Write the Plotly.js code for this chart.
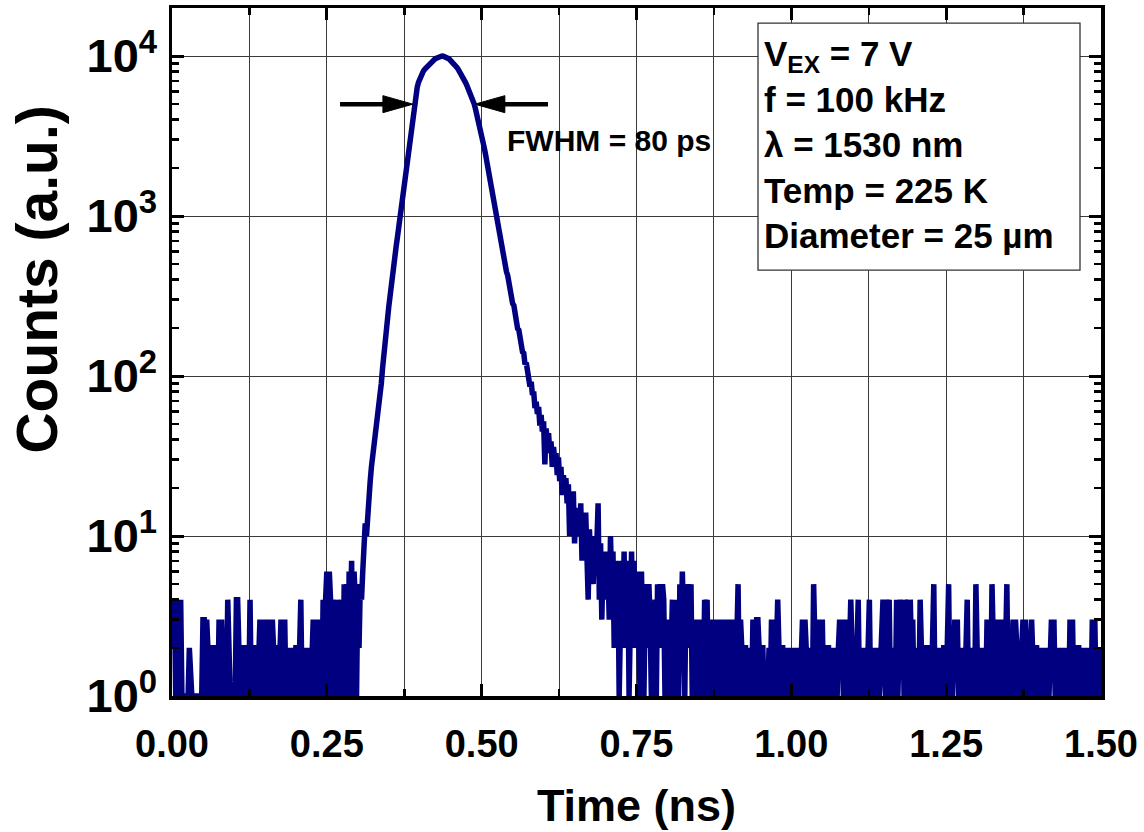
<!DOCTYPE html>
<html><head><meta charset="utf-8">
<script src="https://cdn.plot.ly/plotly-3.0.1.min.js"></script>
<style>html,body{margin:0;padding:0;background:#fff;}#chart{width:1144px;height:832px;}</style>
</head><body><div id="chart"></div>
<script>
// Time bins (ns): first bin and bin width
const timeStart = 0;
const timeStep = 0.002;

// Counts, noise floor before the pulse (t = 0 ... 0.304 ns)
const countsBefore = [
 2,4,4,1,4,4,1,4,1,1,
 1,1,1,1,2,1,1,1,1,1,
 1,1,1,1,1,3,3,1,3,2,
 1,2,1,2,2,1,1,1,3,1,
 3,1,1,1,1,4,1,1,1,1,
 1,1,4,4,2,1,2,1,2,2,
 1,1,1,4,1,2,1,2,2,1,
 2,3,1,3,3,1,3,2,3,1,
 3,3,2,1,2,2,1,2,3,1,
 3,3,1,2,1,2,1,1,2,1,
 2,2,1,2,4,1,2,1,2,2,
 1,2,1,2,3,1,3,3,1,3,
 2,1,4,1,4,6,1,6,4,1,
 4,2,4,1,4,3,1,4,1,5,
 2,5,1,6,3,7,1,6,4,1,
 5,2,5
];

// Counts, pulse (t = 0.306 ... 0.720 ns)
const countsPeak = [
 4,6,8,12,10,15,19,22,27,31,
 34,42,46,55,63,69,90,112,140,163,
 196,226,271,313,375,434,503,560,648,738,
 853,975,1125,1285,1482,1695,1908,2185,2515,2948,
 3500,4100,4800,5380,5920,6400,6850,7250,7590,7850,
 8060,8250,8430,8600,8760,8913,9078,9247,9397,9528,
 9661,9772,9863,9931,9977,10000,9977,9931,9863,9772,
 9661,9528,9376,9226,9057,8872,8670,8472,8260,8035,
 7816,7586,7345,7079,6823,6561,6310,6053,5781,5521,
 5248,5012,4677,4365,4074,3784,3467,3199,2917,2692,
 2455,2213,2018,1820,1622,1462,1303,1148,1035,930,
 860,770,715,640,610,545,505,450,425,372,
 352,318,284,276,240,230,198,194,168,164,
 141,139,118,121,102,104,86,92,76,80,
 63,69,58,64,49,57,45,52,28,47,
 39,44,33,39,27,36,30,33,24,31,
 22,27,18,24,19,23,16,21,10,18,
 13,19,9,14,11,15,10,16,7,13,
 8,14,6,4,11,7,10,5,8,6,
 9,16,4,9,3,7,5,8,4,6,
 3,10,5,8,2,6,3,7
];

// Counts, noise floor after the pulse (t = 0.722 ... 1.500 ns)
const countsAfter = [
 1,5,7,3,8,2,6,7,1,5,
 8,3,7,2,4,6,2,1,6,3,
 1,4,5,2,5,3,1,3,2,4,
 1,5,3,5,2,5,4,1,3,2,
 3,1,2,4,1,4,2,3,1,5,
 2,6,3,1,5,2,5,3,5,1,
 3,2,1,3,2,1,2,3,1,4,
 2,4,1,2,3,1,2,3,1,3,
 2,1,2,3,1,2,1,3,2,1,
 2,3,1,2,1,2,5,1,3,2,
 1,2,2,1,2,1,2,1,3,2,
 1,3,3,2,1,2,2,1,1,1,
 1,2,1,3,2,3,1,2,4,2,
 1,2,2,1,2,1,2,2,1,2,
 2,1,2,2,1,2,1,2,3,1,
 3,2,1,2,1,2,1,5,2,1,
 2,1,3,2,3,1,2,1,2,2,
 1,2,2,1,1,2,1,2,3,2,
 3,1,3,2,3,1,2,4,2,1,
 2,1,2,4,1,2,1,2,1,2,
 1,2,4,1,2,1,2,2,1,2,
 1,2,3,4,2,1,4,2,4,1,
 2,1,2,1,4,1,2,4,2,4,
 1,4,3,4,1,4,2,3,1,2,
 1,2,1,4,2,1,2,1,2,2,
 1,2,1,2,5,1,2,1,1,1,
 2,1,2,2,1,2,5,1,2,1,
 2,3,2,3,1,2,1,2,2,1,
 2,4,1,2,2,1,2,1,5,2,
 1,2,1,2,1,2,1,3,2,3,
 1,5,2,1,2,1,3,2,3,1,
 2,1,2,5,1,2,1,2,3,1,
 3,2,1,2,1,2,3,1,3,2,
 1,2,1,3,2,1,2,2,1,2,
 1,2,2,1,2,1,2,1,2,3,
 2,3,1,2,1,2,1,1,2,1,
 2,1,2,1,3,2,3,1,2,1,
 2,2,1,2,1,2,2,1,2,1,
 2,1,3,2,3,1,2,2,1,2
];

// Axis ticks
const xTickVals = [0, 0.25, 0.5, 0.75, 1.0, 1.25, 1.5];
const xTickText = ["0.00", "0.25", "0.50", "0.75", "1.00", "1.25", "1.50"];
const yTickVals = [1, 10, 100, 1000, 10000];
const yTickText = ["10<sup>0</sup>", "10<sup>1</sup>", "10<sup>2</sup>", "10<sup>3</sup>", "10<sup>4</sup>"];
const yMinorVals = [2,3,4,5,6,7,8,9,20,30,40,50,60,70,80,90,200,300,400,500,600,700,800,900,2000,3000,4000,5000,6000,7000,8000,9000];

// Annotation texts and FWHM marker positions
const infoLines = ["V<sub>EX</sub> = 7 V", "f = 100 kHz", "λ = 1530 nm", "Temp = 225 K", "Diameter = 25 µm"];
const fwhmText = "FWHM = 80 ps";
const fwhmLeftNs = 0.389, fwhmRightNs = 0.489, fwhmCounts = 5000;
const arrowTailLeftNs = 0.2713, arrowTailRightNs = 0.6071;

const counts = countsBefore.concat(countsPeak, countsAfter);

const FONT = "Liberation Sans, Arial, Helvetica, sans-serif";
const navy = "#000080";

const trace = {
  type: "scatter", mode: "lines",
  x0: timeStart, dx: timeStep, y: counts,
  line: {color: navy, width: 5.5},
  hoverinfo: "skip"
};

const layout = {
  width: 1144, height: 832,
  margin: {l: 172, r: 43, t: 8, b: 136},
  paper_bgcolor: "#fff", plot_bgcolor: "#fff",
  showlegend: false,
  font: {family: FONT, color: "#000", weight: 700},
  xaxis: {
    range: [0, 1.5], tickmode: "array", tickvals: xTickVals, ticktext: xTickText,
    ticks: "inside", ticklen: 12, tickwidth: 3, tickcolor: "#000",
    showline: true, linecolor: "#000", linewidth: 3.5, mirror: "ticks",
    showgrid: true, gridcolor: "#3a3a3a", gridwidth: 1, zeroline: false,
    tickfont: {size: 38, family: FONT, weight: 700}, ticklabelstandoff: 12,
    minor: {dtick: 0.125, tick0: 0, ticks: "inside", ticklen: 7, tickwidth: 2.5, tickcolor: "#000",
            showgrid: true, gridcolor: "#3a3a3a", gridwidth: 1},
    title: {text: "Time (ns)", font: {size: 45, family: FONT, weight: 700}, standoff: 26},
    automargin: false, layer: "above traces"
  },
  yaxis: {
    type: "log", range: [0, 4.3], tickmode: "array", tickvals: yTickVals, ticktext: yTickText,
    ticks: "inside", ticklen: 12, tickwidth: 3, tickcolor: "#000",
    showline: true, linecolor: "#000", linewidth: 3.5, mirror: "ticks",
    showgrid: true, gridcolor: "#3a3a3a", gridwidth: 1, zeroline: false,
    tickfont: {size: 47, family: FONT, weight: 700}, ticklabelstandoff: 2,
    minor: {tickmode: "array", tickvals: yMinorVals, ticks: "inside", ticklen: 7, tickwidth: 2.5, tickcolor: "#000", showgrid: false},
    automargin: false, layer: "above traces"
  },
  shapes: [
    {type: "rect", xref: "paper", yref: "paper", x0: 0.6308, x1: 0.9774, y0: 0.619, y1: 0.978,
     line: {color: "#333", width: 1.3}, fillcolor: "#fff", layer: "above"},
    {type: "line", xref: "x", yref: "y", x0: arrowTailLeftNs, x1: 0.362, y0: fwhmCounts, y1: fwhmCounts, line: {color: "#000", width: 4.5}},
    {type: "path", xref: "x", yref: "y", xsizemode: "pixel", ysizemode: "pixel", xanchor: fwhmLeftNs, yanchor: fwhmCounts,
     path: "M0,0 L-30,8.5 L-30,-8.5 Z", fillcolor: "#000", line: {color: "#000", width: 1}},
    {type: "line", xref: "x", yref: "y", x0: arrowTailRightNs, x1: 0.516, y0: fwhmCounts, y1: fwhmCounts, line: {color: "#000", width: 4.5}},
    {type: "path", xref: "x", yref: "y", xsizemode: "pixel", ysizemode: "pixel", xanchor: fwhmRightNs, yanchor: fwhmCounts,
     path: "M0,0 L30,8.5 L30,-8.5 Z", fillcolor: "#000", line: {color: "#000", width: 1}}
  ],
  annotations: [
    {xref: "paper", yref: "paper", x: 0.635, y: 0.801, xanchor: "left", yanchor: "middle", align: "left",
     showarrow: false, text: infoLines.join("<br>"), font: {size: 35, family: FONT, weight: 700, color: "#000"}},
    {xref: "x", yref: "y", x: 0.5377, y: 3.475, xanchor: "left", yanchor: "middle",
     showarrow: false, text: fwhmText, font: {size: 30, family: FONT, weight: 700, color: "#000"}},
    {xref: "paper", yref: "paper", x: -0.1455, y: 0.605, xanchor: "center", yanchor: "middle", textangle: -90,
     showarrow: false, text: "Counts (a.u.)", font: {size: 57, family: FONT, weight: 700, color: "#000"}}
  ]
};

Plotly.newPlot("chart", [trace], layout, {displayModeBar: false, staticPlot: true});
</script>
</body></html>
